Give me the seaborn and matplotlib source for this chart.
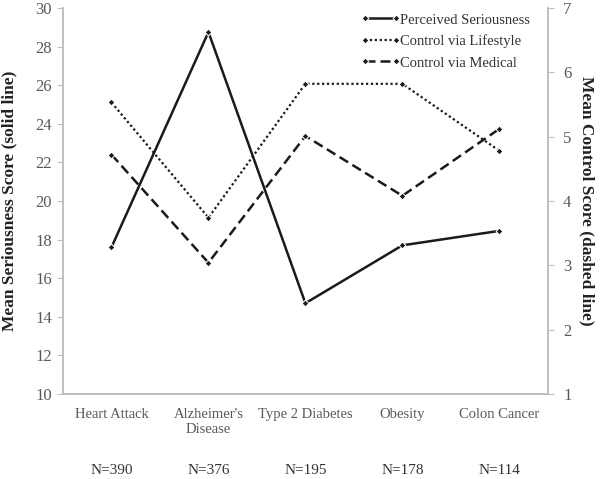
import matplotlib
matplotlib.use("Agg")
import matplotlib.pyplot as plt
import seaborn as sns
import pandas as pd

diseases = ["Heart Attack", "Alzheimer's\nDisease", "Type 2 Diabetes", "Obesity", "Colon Cancer"]
n_labels = ["N=390", "N=376", "N=195", "N=178", "N=114"]
seriousness = [17.6, 28.75, 14.7, 17.7, 18.45]
lifestyle = [5.53, 3.74, 5.82, 5.82, 4.78]
medical = [4.72, 3.04, 5.01, 4.08, 5.12]

sns.set_style("white")
plt.rcParams["font.family"] = ["Liberation Serif", "DejaVu Serif"]

pos = list(range(len(diseases)))
df_s = pd.DataFrame({"x": pos, "y": seriousness})
df_l = pd.DataFrame({"x": pos, "y": lifestyle})
df_m = pd.DataFrame({"x": pos, "y": medical})

fig = plt.figure(figsize=(6, 4.79), dpi=100)
ax = fig.add_axes([0.105, 0.1775, 0.808, 0.806])
ax2 = ax.twinx()

sns.lineplot(data=df_s, x="x", y="y", ax=ax, color="#1a1a1a", lw=1.8,
             marker="D", markersize=3.5, label="Perceived Seriousness", legend=False)
sns.lineplot(data=df_l, x="x", y="y", ax=ax2, color="#1a1a1a", lw=1.6, linestyle=(0, (1, 1.2)),
             marker="D", markersize=3.5, label="Control via Lifestyle", legend=False)
sns.lineplot(data=df_m, x="x", y="y", ax=ax2, color="#1a1a1a", lw=1.8, linestyle=(0, (4, 2)),
             marker="D", markersize=3.5, label="Control via Medical", legend=False)

ax.set_xlim(-0.5, 4.5)
ax.set_ylim(10, 30)
ax.set_yticks(range(10, 31, 2))
ax2.set_ylim(1, 7)
ax2.set_yticks(range(1, 8))
ax.set_xticks(pos)
ax.set_xticklabels(diseases)
ax.set_xticks([0.5, 1.5, 2.5, 3.5], minor=True)
ax.tick_params(axis="x", which="major", length=0, pad=10)
ax.tick_params(axis="x", which="minor", length=4, color="#bfbfbf", direction="out")

grey = "#bfbfbf"
for a in (ax, ax2):
    a.spines["top"].set_visible(False)
    for s in ("left", "right", "bottom"):
        a.spines[s].set_color(grey)
        a.spines[s].set_linewidth(1.2)
    a.tick_params(axis="y", length=4, color=grey, labelcolor="#595959", labelsize=12)
    a.tick_params(axis="x", labelcolor="#595959", labelsize=10.5)
ax.tick_params(axis="y", direction="out", pad=4)
ax2.tick_params(axis="y", direction="out", pad=7)

ax.set_xlabel("")
ax.set_ylabel("Mean Seriousness Score (solid line)", fontsize=12.5, fontweight="bold", color="#222222", labelpad=13)
ax2.set_xlabel("")
ax2.set_ylabel("Mean Control Score (dashed line)", fontsize=12.5, fontweight="bold", color="#222222",
               rotation=270, labelpad=17)

for i, n in enumerate(n_labels):
    ax.text(i, -0.198, n, transform=ax.get_xaxis_transform(), ha="center", va="center",
            fontsize=11, color="#333333")

h1, l1 = ax.get_legend_handles_labels()
h2, l2 = ax2.get_legend_handles_labels()
leg = ax2.legend(h1 + h2, l1 + l2, loc="upper right", bbox_to_anchor=(0.99, 1.02), frameon=False,
                 fontsize=10.5, numpoints=2, handlelength=2.7, handletextpad=0.0, labelspacing=0.55)
for t in leg.get_texts():
    t.set_color("#333333")

fig.savefig("out.png", dpi=100)
